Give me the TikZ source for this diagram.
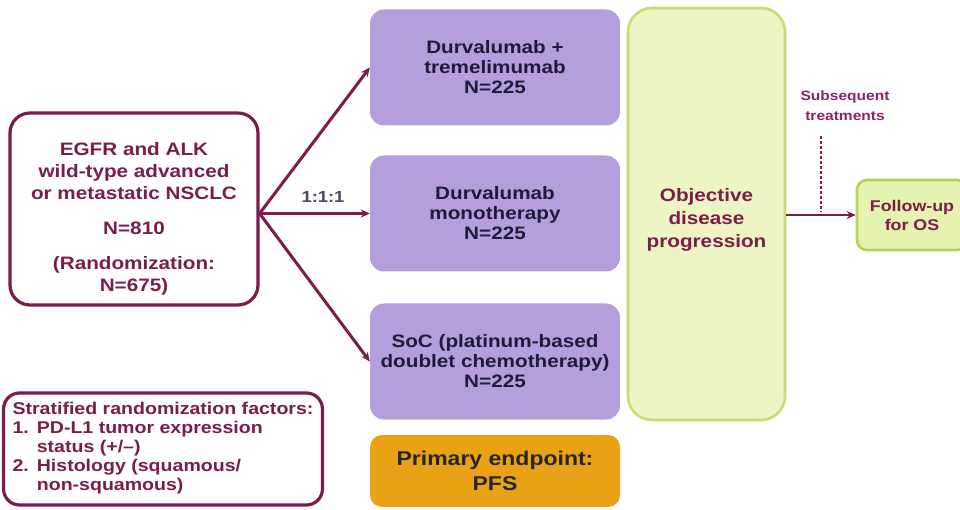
\documentclass[tikz,border=0pt]{standalone}
\usepackage{fontspec}
\setmainfont{Liberation Sans}[FakeStretch=1.15]
\usetikzlibrary{arrows.meta}
\definecolor{maroon}{HTML}{7B1C4A}
\definecolor{lav}{HTML}{B49FDC}
\definecolor{navy}{HTML}{1E1B3A}
\definecolor{orng}{HTML}{E9A116}
\definecolor{ylw}{HTML}{EEF5C4}
\definecolor{ylwb}{HTML}{C8DC70}
\definecolor{fup}{HTML}{E6F2B0}
\definecolor{fupb}{HTML}{B5D35A}
\definecolor{subs}{HTML}{8C2466}
\tikzset{
  arm/.style={draw=none, fill=lav, rounded corners=14pt, minimum width=250pt, minimum height=116pt, align=center, text=navy, font=\fontsize{18}{20}\selectfont\bfseries},
  maroonbox/.style={draw=maroon, line width=3.2pt, fill=white, rounded corners=20pt, align=center, text=maroon},
  conn/.style={draw=maroon, line width=3pt, -{Stealth[length=9pt,width=8pt]}},
}
\begin{document}
\begin{tikzpicture}[x=1pt,y=-1pt]
\useasboundingbox[fill=white] (0,0) rectangle (960,510);
% left population box
\node[maroonbox, minimum width=248pt, minimum height=192pt] (pop) at (134,209) {};
\node[text=maroon, align=center, font=\fontsize{18}{22}\selectfont\bfseries] (poptext) at (134,219)
 {EGFR and ALK\\wild-type advanced\\or metastatic NSCLC\\[13pt]N=810\\[13pt](Randomization:\\N=675)};
% arms
\node[arm] (a1) at (495,67.5) {Durvalumab +\\tremelimumab\\N=225};
\node[arm] (a2) at (495,213.5) {Durvalumab\\monotherapy\\N=225};
\node[arm] (a3) at (495,361.5) {SoC (platinum-based\\doublet chemotherapy)\\N=225};
\node[fill=orng, rounded corners=12pt, minimum width=250pt, minimum height=72pt, align=center, text=black!85, font=\fontsize{20}{25}\selectfont\bfseries] (pe) at (495,471) {Primary endpoint:\\PFS};
% objective
\node[draw=ylwb, line width=2.6pt, fill=ylw, rounded corners=24pt, minimum width=157pt, minimum height=412pt] (obj) at (706.5,214) {};
\node[align=center, text=maroon, font=\fontsize{18}{23}\selectfont\bfseries] (objtext) at (706.5,220) {Objective\\disease\\progression};
% follow-up
\node[draw=fupb, line width=2.6pt, fill=fup, rounded corners=10pt, minimum width=110pt, minimum height=70pt, align=center, text=maroon, font=\fontsize{15.5}{19}\selectfont\bfseries] (fu) at (912,215) {Follow-up\\for OS};
% strat box
\node[maroonbox, rounded corners=16pt, minimum width=310pt, minimum height=112pt, align=left, font=\fontsize{17}{19}\selectfont\bfseries, inner xsep=9pt] (st) at (163,449)
 {\begin{tabular}{@{}l@{\hspace{8pt}}l@{}}
 \multicolumn{2}{@{}l@{}}{Stratified randomization factors:}\\
 1. & PD-L1 tumor expression\\
    & status (+/--)\\
 2. & Histology (squamous/\\
    & non-squamous)
 \end{tabular}};
% connectors
\coordinate (split) at (pop.east |- a2.west);
\draw[conn] (split) -- (a1.west);
\draw[conn] (split) -- (a2.west);
\draw[conn] (split) -- (a3.west);
\node[text=navy!80, font=\fontsize{16}{18}\selectfont\bfseries] (ratio) at (323,197) {1:1:1};
\draw[conn, line width=2.8pt] (obj.east |- fu.west) -- (fu.west);
\node[text=subs, align=center, font=\fontsize{13.5}{20}\selectfont\bfseries] (sub) at (845,106) {Subsequent\\treatments};
\coordinate (dtop) at (821,136);
\coordinate (dbot) at (821,212);
\draw[maroon, line width=1.6pt, dash pattern=on 3pt off 2pt] (dtop) -- (dbot);
\end{tikzpicture}
\end{document}
